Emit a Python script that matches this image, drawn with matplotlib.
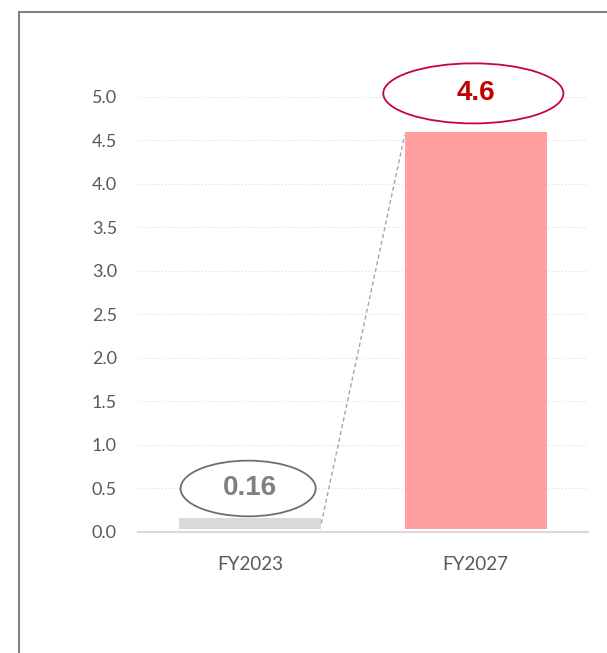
import matplotlib.pyplot as plt
from matplotlib.patches import Ellipse, Rectangle

categories = ['FY2023', 'FY2027']
values = [0.16, 4.6]
labels = ['0.16', '4.6']
bar_colors = ['#d9d9d9', '#ff9f9f']
label_colors = ['#7f7f7f', '#c00000']
ring_colors = ['#6e6e6e', '#c8004a']
yticks = [0.0, 0.5, 1.0, 1.5, 2.0, 2.5, 3.0, 3.5, 4.0, 4.5, 5.0]

plt.rcParams['font.family'] = ['Lato', 'DejaVu Sans']

fig = plt.figure(figsize=(6.07, 6.53), dpi=100)
ax = fig.add_axes([0.227, 0.1853, 0.742, 0.733])

x = list(range(len(categories)))
base = 0.04
width = 0.63
ax.bar(x, [v - base for v in values], bottom=base, width=width,
       color=bar_colors, zorder=3)

# dashed connector between bar tops
ax.plot([x[0] + width / 2, x[1] - width / 2], [values[0] - 0.06, values[1] - 0.04],
        color='#a6a6a6', linestyle=(0, (3, 2)), linewidth=1, zorder=4)

# value labels in ellipses
ring_w = [0.6, 0.8]
ring_h = [0.64, 0.69]
offs = [0.35, 0.45]
ring_dx = [-0.01, -0.01]
for i in x:
    cy = values[i] + offs[i]
    ax.add_patch(Ellipse((x[i] + ring_dx[i], cy - 0.01), ring_w[i], ring_h[i],
                         facecolor='white', edgecolor=ring_colors[i],
                         linewidth=1.3, zorder=5))
    ax.text(x[i], cy, labels[i], ha='center', va='center', fontsize=20,
            fontweight='bold', color=label_colors[i], zorder=6,
            family=['Liberation Sans', 'DejaVu Sans'])

ax.set_xlim(-0.5, 1.5)
ax.set_ylim(0, 5.5)
ax.set_yticks(yticks)
ax.set_yticklabels([f'{t:.1f}' for t in yticks])
ax.set_xticks(x)
ax.set_xticklabels(categories)
ax.tick_params(axis='both', length=0, labelsize=13, colors='#595959')
ax.tick_params(axis='y', pad=15)
ax.tick_params(axis='x', pad=17)
for t in ax.get_xticklabels():
    t.set_fontsize(13.5)

ax.yaxis.grid(True, linestyle=(0, (1, 2)), color='#d9d9d9', linewidth=0.8, zorder=0)
ax.set_axisbelow(True)
for s in ['top', 'right', 'left']:
    ax.spines[s].set_visible(False)
ax.spines['bottom'].set_color('#d9d9d9')
ax.spines['bottom'].set_linewidth(1.5)

# outer frame
fig.patches.append(Rectangle((19 / 607, -0.1), 1.2, 1.1 - 12 / 653, transform=fig.transFigure,
                             fill=False, edgecolor='#808080', linewidth=1.5))

fig.savefig('out.png', dpi=100)
